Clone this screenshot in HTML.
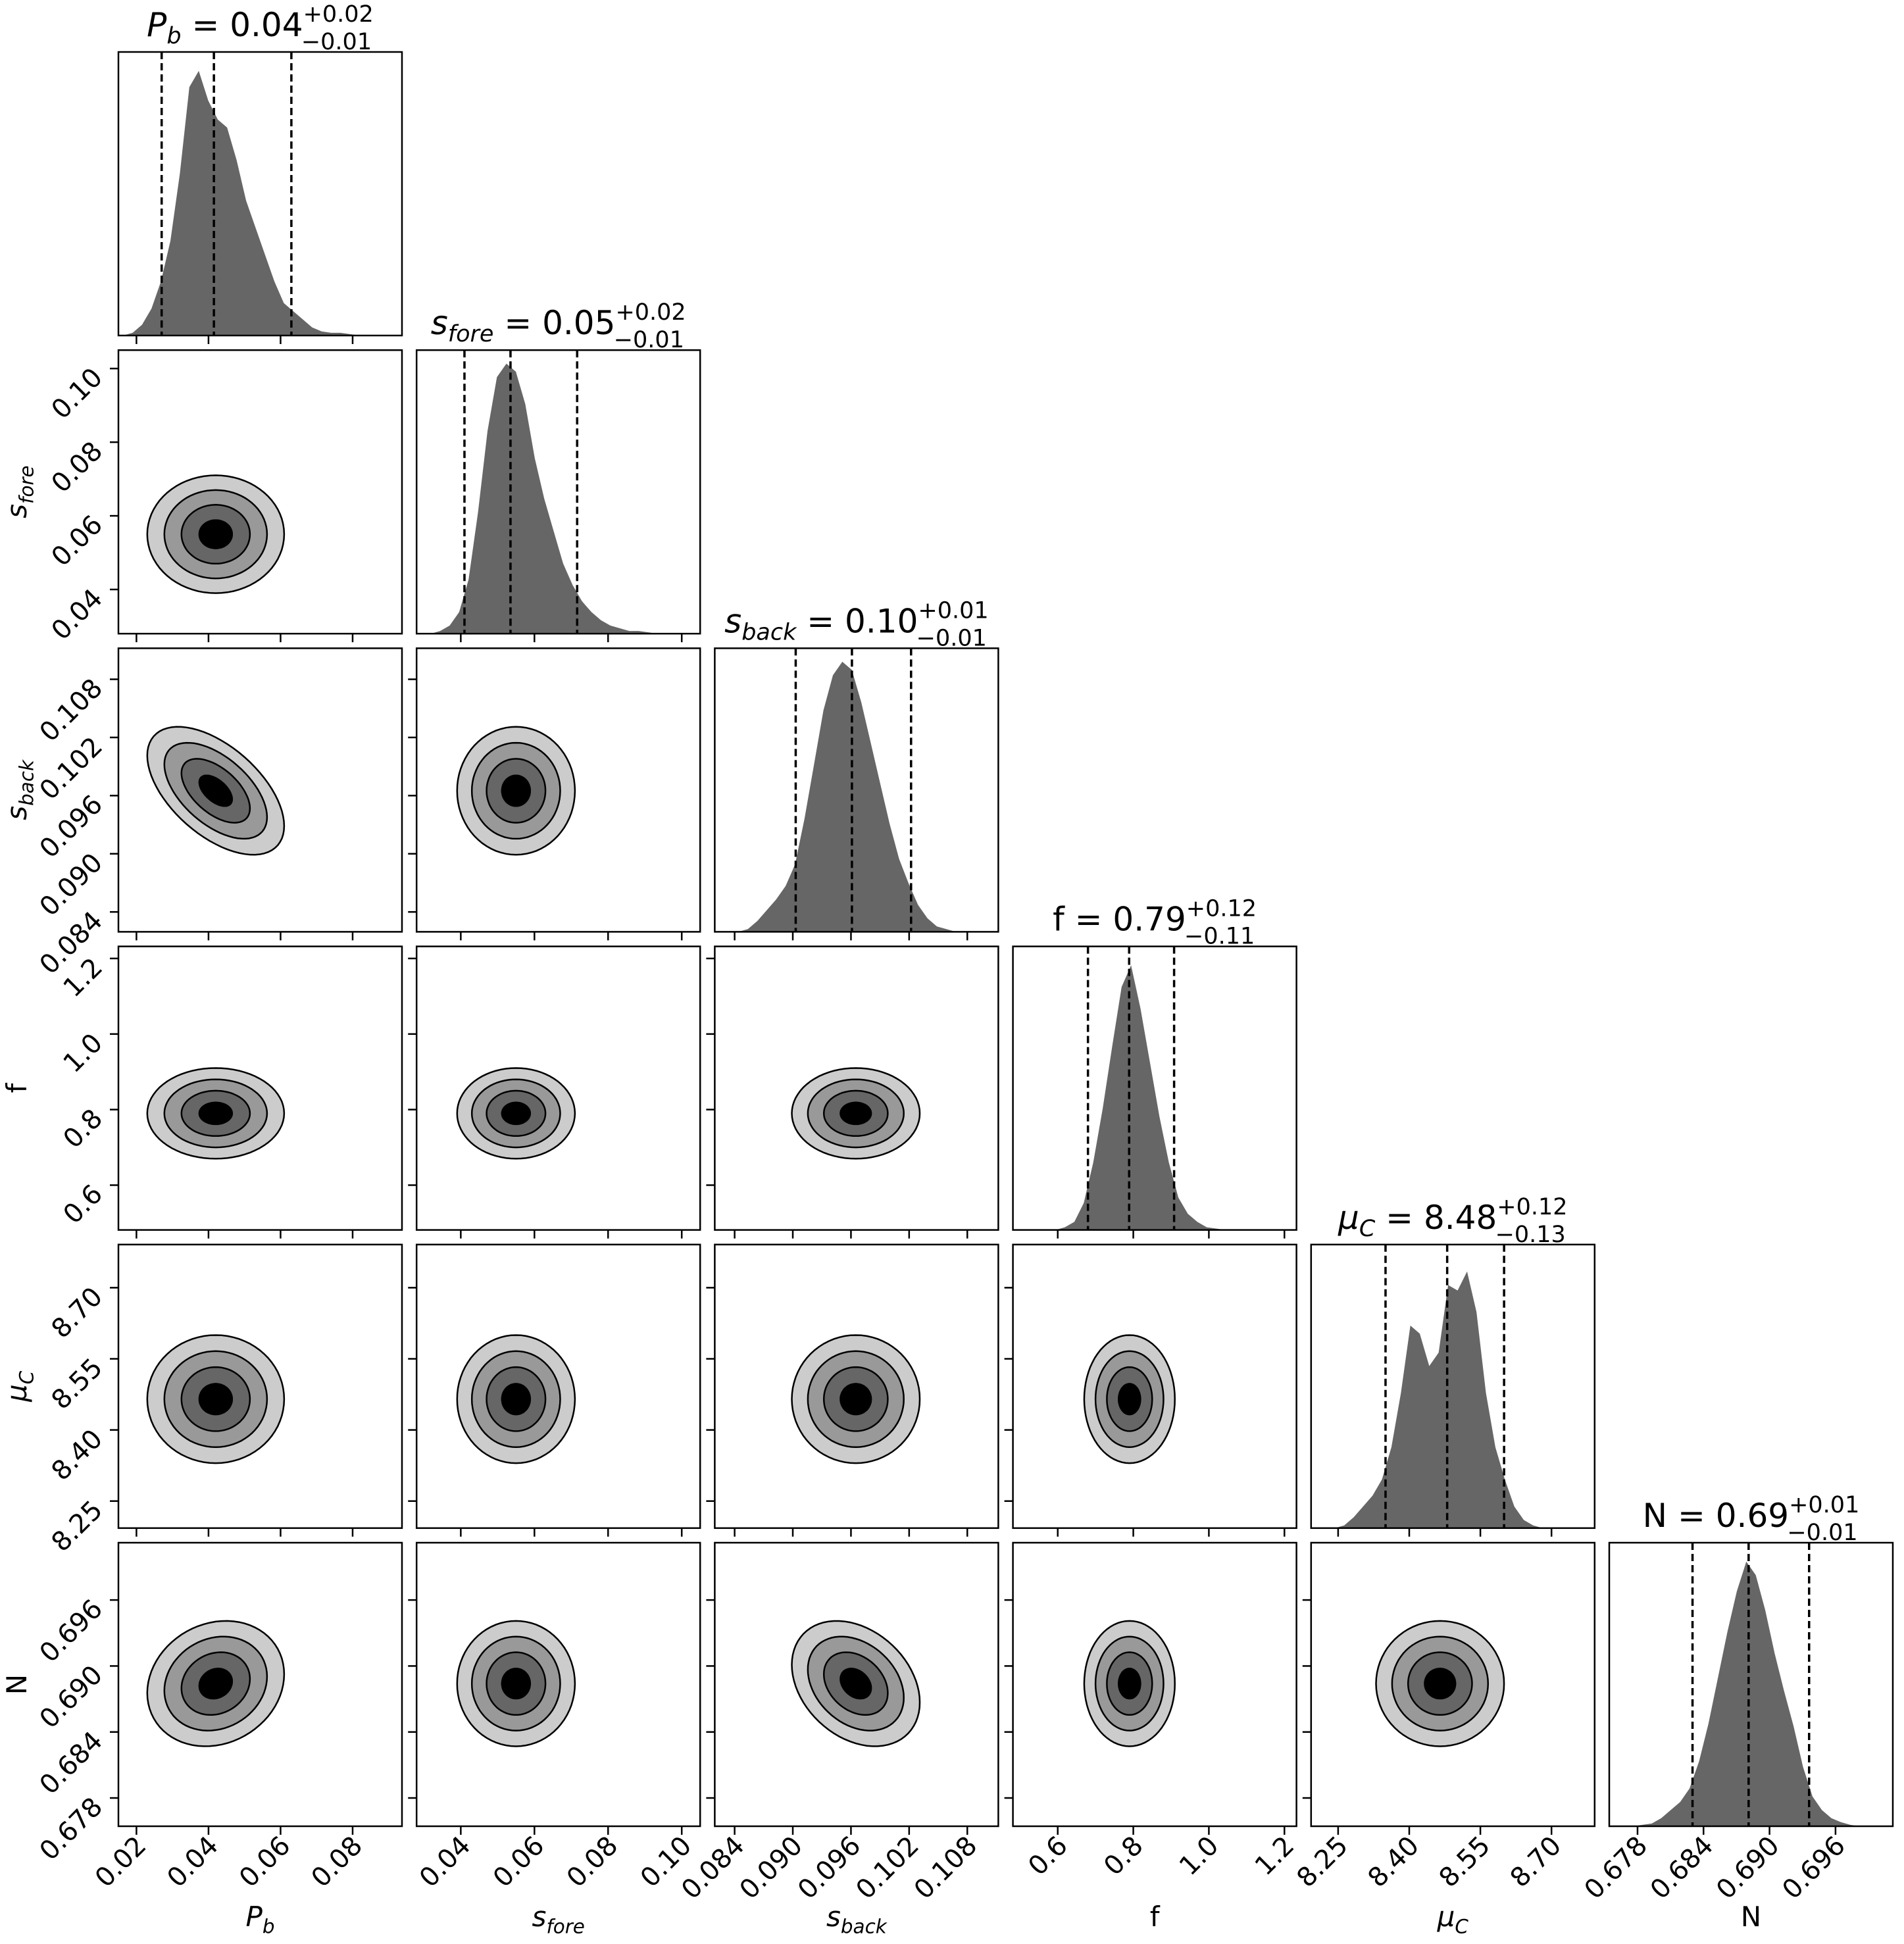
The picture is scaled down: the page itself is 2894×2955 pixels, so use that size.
<!DOCTYPE html>
<html><head><meta charset="utf-8"><style>
html,body{margin:0;padding:0;background:#fff}
svg{display:block}
text{font-family:"DejaVu Sans","Liberation Sans",sans-serif;fill:#000}
</style></head><body>
<svg id="chart" width="2894" height="2955" viewBox="0 0 2894 2955" xmlns="http://www.w3.org/2000/svg"></svg>
<script>
// ---- data ----
const paramNames = ['Pb','sfore','sback','f','muC','N'];
const rangeMin = [0.015, 0.028, 0.08195, 0.4814, 8.193, 0.67543];
const rangeMax = [0.0937, 0.105, 0.1112, 1.2319, 8.791, 0.70121];
const tickValsPb = [0.02,0.04,0.06,0.08];
const tickValsSfore = [0.04,0.06,0.08,0.10];
const tickValsSback = [0.084,0.090,0.096,0.102,0.108];
const tickValsF = [0.6,0.8,1.0,1.2];
const tickValsMuC = [8.25,8.40,8.55,8.70];
const tickValsN = [0.678,0.684,0.690,0.696];
const tickLabelsPb = ['0.02','0.04','0.06','0.08'];
const tickLabelsSfore = ['0.04','0.06','0.08','0.10'];
const tickLabelsSback = ['0.084','0.090','0.096','0.102','0.108'];
const tickLabelsF = ['0.6','0.8','1.0','1.2'];
const tickLabelsMuC = ['8.25','8.40','8.55','8.70'];
const tickLabelsN = ['0.678','0.684','0.690','0.696'];
const histPb = [0,0.01,0.04,0.1,0.2,0.35,0.6,0.92,0.98,0.87,0.8,0.77,0.65,0.5,0.4,0.3,0.2,0.12,0.09,0.06,0.03,0.015,0.01,0.01,0.005,0,0,0,0,0];
const histSfore = [0,0,0.01,0.03,0.08,0.2,0.45,0.75,0.95,1.0,0.97,0.85,0.65,0.5,0.38,0.26,0.18,0.12,0.08,0.05,0.03,0.02,0.01,0.01,0.005,0,0,0,0,0];
const histSback = [0,0,0,0.01,0.04,0.08,0.12,0.17,0.25,0.42,0.62,0.82,0.95,1.0,0.97,0.85,0.7,0.55,0.4,0.27,0.18,0.1,0.05,0.02,0.01,0,0,0,0,0];
const histF = [0,0,0,0,0,0.01,0.03,0.1,0.25,0.45,0.68,0.9,0.98,0.82,0.62,0.42,0.25,0.12,0.06,0.03,0.01,0.005,0,0,0,0,0,0,0,0];
const histMuC = [0,0,0,0.01,0.04,0.08,0.12,0.18,0.3,0.5,0.75,0.72,0.6,0.65,0.9,0.88,0.95,0.8,0.5,0.3,0.18,0.08,0.03,0.01,0,0,0,0,0,0];
const histN = [0,0,0,0.005,0.01,0.03,0.06,0.09,0.14,0.24,0.38,0.55,0.72,0.87,0.98,0.93,0.8,0.64,0.5,0.37,0.22,0.11,0.06,0.03,0.015,0.005,0,0,0,0];
const q16 = [0.027, 0.041, 0.0903, 0.68, 8.35, 0.6830];
const q50 = [0.0415, 0.0535, 0.0961, 0.789, 8.48, 0.6881];
const q84 = [0.063, 0.0716, 0.1022, 0.908, 8.60, 0.6936];
const centers = [0.042, 0.055, 0.0965, 0.79, 8.465, 0.6884];
const halfWidths = [0.019, 0.016, 0.0066, 0.12, 0.135, 0.0057];
const corrRow1 = [0];
const corrRow2 = [-0.55, 0];
const corrRow3 = [0, 0, 0];
const corrRow4 = [0, 0, 0, 0];
const corrRow5 = [0.15, 0, -0.3, 0, 0];
const levelFractions = [1, 0.75, 0.5, 0.24];
const levelColors = ['#cccccc','#999999','#666666','#000000'];

const tickVals = [tickValsPb,tickValsSfore,tickValsSback,tickValsF,tickValsMuC,tickValsN];
const tickLabels = [tickLabelsPb,tickLabelsSfore,tickLabelsSback,tickLabelsF,tickLabelsMuC,tickLabelsN];
const hists = [histPb,histSfore,histSback,histF,histMuC,histN];
const corrs = [[],corrRow1,corrRow2,corrRow3,corrRow4,corrRow5];

// ---- layout ----
const L0 = 180, T0 = 79, PITCH = 453.2, SIZE = 431;
const svg = document.getElementById('chart');
const NS = 'http://www.w3.org/2000/svg';
function mk(tag, attrs, parent){const e=document.createElementNS(NS,tag);for(const k in attrs)e.setAttribute(k,attrs[k]);(parent||svg).appendChild(e);return e;}
function xScale(p, col, v){return L0+col*PITCH + (v-rangeMin[p])/(rangeMax[p]-rangeMin[p])*SIZE;}
function yScale(p, row, v){return T0+row*PITCH+SIZE - (v-rangeMin[p])/(rangeMax[p]-rangeMin[p])*SIZE;}

const titleMain = ['P','s','s','f','μ','N'];
const titleSub = ['b','fore','back','','C',''];
const titleItalic = [true,true,true,false,true,false];
const titleVal = ['0.04','0.05','0.10','0.79','8.48','0.69'];
const titlePlus = ['+0.02','+0.02','+0.01','+0.12','+0.12','+0.01'];
const titleMinus = ['−0.01','−0.01','−0.01','−0.11','−0.13','−0.01'];

function labelText(parent, i, x, y, size, anchor, extra){
  const t = mk('text',Object.assign({x:x,y:y,'font-size':size,'text-anchor':anchor},extra||{}),parent);
  const a = mk('tspan',{'font-style':titleItalic[i]?'italic':'normal'},t); a.textContent=titleMain[i];
  if(titleSub[i]){const b=mk('tspan',{'font-style':'italic','font-size':size*0.7,dy:size*0.25},t); b.textContent=titleSub[i];}
  return t;
}

for(let r=0;r<6;r++){
  for(let c=0;c<=r;c++){
    const px=L0+c*PITCH, py=T0+r*PITCH;
    const g=mk('g',{});
    
    
    if(r===c){
      const h=hists[r], n=h.length, bw=(rangeMax[r]-rangeMin[r])/n;
      let d='M'+xScale(r,c,rangeMin[r])+','+(py+SIZE);
      for(let k=0;k<n;k++){
        const v=rangeMin[r]+(k+0.5)*bw;
        d+=' L'+xScale(r,c,v).toFixed(1)+','+(py+SIZE-h[k]/1.05*SIZE).toFixed(1);
      }
      d+=' L'+xScale(r,c,rangeMax[r])+','+(py+SIZE)+' Z';
      const area=mk('path',{d:d,fill:'#666666',stroke:'none'},g);
      
      
      [q16[r],q50[r],q84[r]].forEach(q=>{
        const x=xScale(r,c,q);
        const ln=mk('line',{x1:x,x2:x,y1:py,y2:py+SIZE,stroke:'#000','stroke-width':3.5,'stroke-dasharray':'11,6'},g);
        
        
      });
      const tt=mk('text',{x:px+SIZE/2,y:py-24,'font-size':50,'text-anchor':'middle'},g);
      
      
      const a=mk('tspan',{'font-style':titleItalic[r]?'italic':'normal'},tt);a.textContent=titleMain[r];
      if(titleSub[r]){const b=mk('tspan',{'font-style':'italic','font-size':35,dy:11},tt);b.textContent=titleSub[r];}
      const e=mk('tspan',{dy:titleSub[r]?-11:0},tt);e.textContent=' = '+titleVal[r];
      const sp=mk('tspan',{'font-size':35,dy:-22},tt);sp.textContent=titlePlus[r];
      const sb=mk('tspan',{'font-size':35,dy:42,dx:-(titlePlus[r].length*22)},tt);sb.textContent=titleMinus[r];
    } else {
      const cx=centers[c], cy=centers[r], hx=halfWidths[c], hy=halfWidths[r], rho=corrs[r][c]||0;
      levelFractions.forEach((fr,li)=>{
        let d='';
        for(let k=0;k<=72;k++){
          const t=k/72*2*Math.PI;
          const vx=cx+fr*hx*Math.cos(t);
          const vy=cy+fr*hy*(rho*Math.cos(t)+Math.sqrt(1-rho*rho)*Math.sin(t));
          d+=(k?' L':'M')+xScale(c,c,vx).toFixed(1)+','+yScale(r,r,vy).toFixed(1);
        }
        d+=' Z';
        const pth=mk('path',{d:d,fill:levelColors[li],stroke:'#000','stroke-width':2.5},g);
        
        
      });
      tickVals[r].forEach((v,k)=>{
        const y=yScale(r,r,v);
        mk('line',{x1:px-13,x2:px,y1:y,y2:y,stroke:'#000','stroke-width':2.5},g);
        if(c===0){
          const tl=mk('text',{x:0,y:0,'font-size':40,'text-anchor':'end',transform:'translate('+(px-22)+','+(y+16)+') rotate(-45)'},g);
          tl.textContent=tickLabels[r][k];
          
          
        }
      });
    }
    mk('rect',{x:px,y:py,width:SIZE,height:SIZE,fill:'none',stroke:'#000','stroke-width':2.5},g);
    tickVals[c].forEach((v,k)=>{
      const x=xScale(c,c,v);
      mk('line',{x1:x,x2:x,y1:py+SIZE,y2:py+SIZE+13,stroke:'#000','stroke-width':2.5},g);
      if(r===5){
        const tl=mk('text',{x:0,y:0,'font-size':40,'text-anchor':'end',transform:'translate('+(x+17)+','+(py+SIZE+32)+') rotate(-45)'},g);
        tl.textContent=tickLabels[c][k];
        
        
      }
    });
  }
}
for(let i=0;i<6;i++){
  const xl=labelText(svg,i,L0+i*PITCH+SIZE/2,2928,42,'middle');
  
  
  if(i>0){
    const yc=T0+i*PITCH+SIZE/2;
    const yl=labelText(svg,i,0,0,42,'middle',{transform:'translate(40,'+yc+') rotate(-90)'});
    
    
  }
}
</script>
</body></html>
